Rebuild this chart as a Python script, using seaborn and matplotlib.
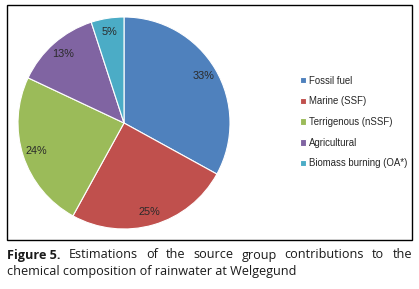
import matplotlib
matplotlib.use("Agg")
import matplotlib.pyplot as plt
import seaborn as sns
from matplotlib.patches import Rectangle

sources = ["Fossil fuel", "Marine (SSF)", "Terrigenous (nSSF)", "Agricultural",
           "Biomass burning (OA*)"]
shares = [33, 25, 24, 13, 5]
colours = ["#4F81BD", "#C0504D", "#9BBB59", "#8064A2", "#4BACC6"]

caption_bold = "Figure 5."
caption_line1 = "Estimations of the source group contributions to the"
caption_line2 = "chemical composition of rainwater at Welgegund"

sns.set_style("white")
plt.rcParams["font.family"] = ["Liberation Sans", "DejaVu Sans"]

W, H = 419, 289
fig = plt.figure(figsize=(W / 100, H / 100), dpi=100)

# pie axes: centre ~(124,123) px, radius ~106 px
ax = fig.add_axes([18 / W, 1 - 229 / H, 212 / W, 212 / H])
wedges, texts, autotexts = ax.pie(
    shares, colors=colours, startangle=90, counterclock=False,
    autopct="%d%%", pctdistance=0.87,
    wedgeprops=dict(edgecolor="white", linewidth=0.8),
    textprops=dict(fontsize=7.8, color="#2a2a2a"))
ax.set_xlim(-1, 1)
ax.set_ylim(-1, 1)
ax.set_aspect("equal")

fig.legend(wedges, sources, loc="center left",
           bbox_to_anchor=(295 / W, 1 - 122 / H), frameon=False,
           fontsize=6.9, handlelength=0.65, handleheight=0.65,
           handletextpad=0.3, labelspacing=1.12, borderpad=0)

# frame around the chart
fig.patches.append(Rectangle((7 / W, 1 - 240 / H), 405 / W, 235 / H,
                             transform=fig.transFigure, fill=False,
                             edgecolor="black", linewidth=1))

# caption, first line justified
cap_font = ["Open Sans", "DejaVu Sans"]
cap_size = 9.1
x0, x1 = 7, 412
y1 = 1 - 255 / H
y2 = 1 - 272 / H
fig.canvas.draw()
renderer = fig.canvas.get_renderer()
words = [(caption_bold, "bold")] + [(w, "normal") for w in caption_line1.split()]
items = []
total = 0
for w, weight in words:
    t = fig.text(0, y1, w, fontsize=cap_size, family=cap_font, weight=weight,
                 va="center", ha="left", color="#1a1a1a")
    wpx = t.get_window_extent(renderer).width
    items.append((t, wpx))
    total += wpx
gap = (x1 - x0 - total) / (len(items) - 1)
x = x0
for t, wpx in items:
    t.set_x(x / W)
    x += wpx + gap
fig.text(x0 / W, y2, caption_line2, fontsize=cap_size, family=cap_font,
         va="center", ha="left", color="#1a1a1a")

fig.savefig("out.png", dpi=100)
